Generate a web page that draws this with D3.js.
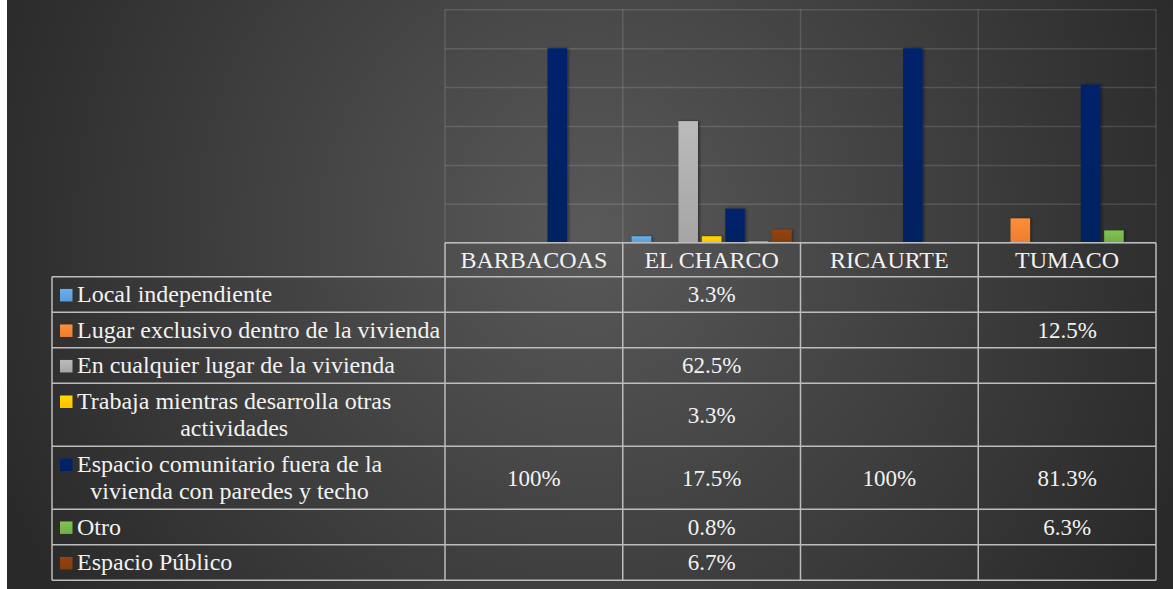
<!DOCTYPE html>
<html>
<head>
<meta charset="utf-8">
<script src="https://cdn.jsdelivr.net/npm/d3@7"></script>
<style>
  html, body { margin: 0; padding: 0; background: #fff; overflow: hidden; }
  svg { display: block; }
</style>
</head>
<body>
<div id="chart"></div>
<script>
// categories (municipios) and series
const categories = ['BARBACOAS', 'EL CHARCO', 'RICAURTE', 'TUMACO'];
const seriesNames = [
  'Local independiente',
  'Lugar exclusivo dentro de la vivienda',
  'En cualquier lugar de la vivienda',
  'Trabaja mientras desarrolla otras actividades',
  'Espacio comunitario fuera de la vivienda con paredes y techo',
  'Otro',
  'Espacio Público'
];
const seriesColors = ['#5b9bd5', '#ed7d31', '#a5a5a5', '#ffc000', '#002060', '#70ad47', '#843c0c'];

// values in %, null = empty cell
const localIndependiente = [null, 3.3, null, null];
const lugarExclusivo     = [null, null, null, 12.5];
const cualquierLugar     = [null, 62.5, null, null];
const trabajaMientras    = [null, 3.3, null, null];
const espacioComunitario = [100, 17.5, 100, 81.3];
const otro               = [null, 0.8, null, 6.3];
const espacioPublico     = [null, 6.7, null, null];

const yTicks = [0, 20, 40, 60, 80, 100, 120];

const seriesValues = [localIndependiente, lugarExclusivo, cualquierLugar, trabajaMientras,
  espacioComunitario, otro, espacioPublico];

const series = seriesNames.map((name, i) => ({
  name: name,
  color: seriesColors[i],
  values: seriesValues[i]
}));

const width = 1173, height = 589;
const plot = { left: 445, right: 1156, top: 9.3, bottom: 242.7 };
const tableLeft = 52;
const headerH = 34;
const fontFam = '"Liberation Serif", "Times New Roman", serif';
const gridColor = 'rgba(255,255,255,0.13)';
const tableColor = '#bdbdbd';
const textColor = '#f2f2f2';

const fmt = v => v === 100 ? '100%' : v.toFixed(1) + '%';

let svg = d3.select('#chart')
  .append('svg')
  .attr('width', width)
  .attr('height', height);

let defs = svg.append('defs');

let bg = defs.append('radialGradient')
  .attr('id', 'bg')
  .attr('gradientUnits', 'userSpaceOnUse')
  .attr('cx', 590).attr('cy', 230).attr('r', 650);
bg.append('stop').attr('offset', 0).attr('stop-color', '#595959');
bg.append('stop').attr('offset', 1).attr('stop-color', '#292929');

series.forEach((s, i) => {
  let g = defs.append('linearGradient')
    .attr('id', 'bar' + i)
    .attr('x1', 0).attr('y1', 0).attr('x2', 0).attr('y2', 1);
  g.append('stop').attr('offset', 0).attr('stop-color', d3.color(s.color).brighter(0.35));
  g.append('stop').attr('offset', 1).attr('stop-color', s.color);
});

let shadow = defs.append('filter')
  .attr('id', 'shadow')
  .attr('x', '-50%').attr('y', '-10%').attr('width', '200%').attr('height', '120%');
shadow.append('feDropShadow')
  .attr('dx', 1.5).attr('dy', 0)
  .attr('stdDeviation', 1.5)
  .attr('flood-color', '#000')
  .attr('flood-opacity', 0.45);

svg.append('rect')
  .attr('x', 7).attr('y', 0)
  .attr('width', width - 7).attr('height', height)
  .attr('fill', 'url(#bg)');

// scales
let x0 = d3.scaleBand()
  .domain(categories)
  .range([plot.left, plot.right]);

let x1 = d3.scaleBand()
  .domain(seriesNames)
  .range([8.9, x0.bandwidth() - 8.9])
  .paddingInner(0.167);

let y = d3.scaleLinear()
  .domain([0, 120])
  .range([plot.bottom, plot.top]);

// horizontal gridlines
let grid = svg.append('g')
  .attr('transform', 'translate(' + plot.left + ',0)')
  .call(d3.axisLeft(y).tickValues(yTicks).tickSize(-(plot.right - plot.left)).tickFormat(''));
grid.select('.domain').remove();
grid.selectAll('line')
  .attr('stroke', gridColor)
  .attr('stroke-width', 1.5);

// vertical category lines inside plot
let catEdges = categories.map(c => x0(c)).concat([plot.right]);
svg.append('g').selectAll('line')
  .data(catEdges)
  .enter()
  .append('line')
    .attr('x1', d => d).attr('x2', d => d)
    .attr('y1', plot.top).attr('y2', plot.bottom)
    .attr('stroke', gridColor)
    .attr('stroke-width', 1.5);

// bars
let barData = [];
series.forEach((s, i) => {
  s.values.forEach((v, j) => {
    if (v !== null) barData.push({ s: i, cat: categories[j], name: s.name, value: v });
  });
});

svg.append('g').selectAll('rect')
  .data(barData)
  .enter()
  .append('rect')
    .attr('x', d => x0(d.cat) + x1(d.name))
    .attr('y', d => y(d.value))
    .attr('width', x1.bandwidth())
    .attr('height', d => y(0) - y(d.value))
    .attr('fill', d => 'url(#bar' + d.s + ')')
    .attr('filter', 'url(#shadow)');

// data table
let table = svg.append('g')
  .style('font-family', fontFam)
  .attr('fill', textColor);

// header labels
table.selectAll('text.head')
  .data(categories)
  .enter()
  .append('text')
    .attr('class', 'head')
    .attr('x', d => x0(d) + x0.bandwidth() / 2)
    .attr('y', plot.bottom + headerH / 2 + 8)
    .attr('text-anchor', 'middle')
    .style('font-size', '24px')
    .text(d => d);

// wrap legend labels into lines
const textLeft = 77;
const maxTextW = plot.left - textLeft - 4;
let measurer = svg.append('text').style('font-family', fontFam).style('font-size', '24px');
function wrap(str) {
  let words = str.split(' ');
  let lines = [];
  let cur = '';
  words.forEach(w => {
    let test = cur ? cur + ' ' + w : w;
    measurer.text(test);
    if (measurer.node().getComputedTextLength() > maxTextW && cur) {
      lines.push(cur);
      cur = w;
    } else {
      cur = test;
    }
  });
  lines.push(cur);
  return lines;
}
function textW(str) {
  measurer.text(str);
  return measurer.node().getComputedTextLength();
}

let rowTop = plot.bottom + headerH;
let rows = series.map((s, i) => {
  let lines = wrap(s.name);
  let h = lines.length > 1 ? 63 : 35.5;
  let r = { i: i, s: s, lines: lines, top: rowTop, h: h };
  rowTop += h;
  return r;
});
measurer.remove();
const tableBottom = rowTop;

rows.forEach(r => {
  let mid = r.top + r.h / 2;
  let lineGap = 27.4;
  let firstBase = mid + 8 - (r.lines.length - 1) * lineGap / 2;
  let blockW = d3.max(r.lines, l => textW2(l));
  // legend key
  table.append('rect')
    .attr('x', 60)
    .attr('y', firstBase - 13.5)
    .attr('width', 12.5)
    .attr('height', 12.5)
    .attr('fill', 'url(#bar' + r.i + ')');
  r.lines.forEach((l, k) => {
    table.append('text')
      .attr('x', textLeft + blockW / 2)
      .attr('y', firstBase + k * lineGap)
      .attr('text-anchor', 'middle')
      .style('font-size', '24px')
      .text(l);
  });
  // values
  r.s.values.forEach((v, j) => {
    if (v === null) return;
    table.append('text')
      .attr('x', x0(categories[j]) + x0.bandwidth() / 2)
      .attr('y', mid + 8)
      .attr('text-anchor', 'middle')
      .style('font-size', '23px')
      .text(fmt(v));
  });
});

function textW2(str) {
  let t = svg.append('text').style('font-family', fontFam).style('font-size', '24px').text(str);
  let w = t.node().getComputedTextLength();
  t.remove();
  return w;
}

// table lines
let lines = svg.append('g')
  .attr('stroke', tableColor)
  .attr('stroke-width', 1.5)
  .attr('fill', 'none');

lines.append('line')
  .attr('x1', plot.left).attr('x2', plot.right)
  .attr('y1', plot.bottom).attr('y2', plot.bottom);

rows.forEach(r => {
  lines.append('line')
    .attr('x1', tableLeft).attr('x2', plot.right)
    .attr('y1', r.top).attr('y2', r.top);
});
lines.append('line')
  .attr('x1', tableLeft).attr('x2', plot.right)
  .attr('y1', tableBottom).attr('y2', tableBottom);

lines.append('line')
  .attr('x1', tableLeft).attr('x2', tableLeft)
  .attr('y1', plot.bottom + headerH).attr('y2', tableBottom);

lines.selectAll('line.v')
  .data(catEdges)
  .enter()
  .append('line')
    .attr('class', 'v')
    .attr('x1', d => d).attr('x2', d => d)
    .attr('y1', plot.bottom).attr('y2', tableBottom);
</script>
</body>
</html>
